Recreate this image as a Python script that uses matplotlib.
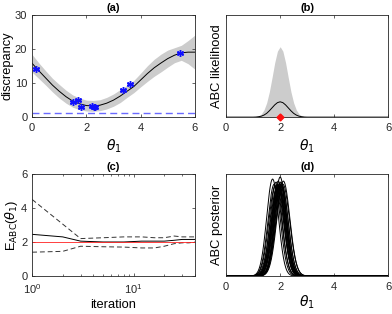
import numpy as np
import matplotlib
matplotlib.use('Agg')
import matplotlib.pyplot as plt

plt.rcParams['font.family'] = ['Liberation Sans', 'DejaVu Sans']
plt.rcParams['font.size'] = 8
plt.rcParams['mathtext.fontset'] = 'dejavusans'

# (a) GP model of the discrepancy
theta_grid = np.arange(0, 6.01, 0.25)
gp_mean = [15.8, 13.6, 11.5, 9.4, 7.6, 6.0, 4.7, 3.9, 3.4, 3.3, 3.5, 4.1,
           5.0, 6.2, 7.6, 9.0, 10.9, 12.8, 14.5, 15.9, 17.2, 18.2, 18.9, 19.1, 19.1]
gp_std = [2.6, 2.3, 2.1, 2.0, 2.0, 1.9, 1.8, 1.7, 1.6, 1.6, 1.6, 1.7,
          1.8, 1.9, 1.8, 1.8, 2.0, 2.3, 2.5, 2.6, 2.5, 2.2, 2.2, 3.4, 5.0]
obs_theta = [0.15, 1.5, 1.7, 1.8, 2.2, 2.27, 2.3, 3.35, 3.6, 5.45]
obs_disc = [14.0, 4.3, 4.9, 2.9, 3.3, 3.1, 2.9, 8.1, 9.8, 18.8]
threshold = 1.1

# (b) ABC likelihood
lik_theta = [0.0, 1.0, 1.1, 1.2, 1.3, 1.4, 1.5, 1.6, 1.7, 1.8, 1.9, 2.0,
             2.1, 2.2, 2.3, 2.4, 2.5, 2.6, 2.7, 2.8, 2.9, 3.0, 6.0]
lik_upper = [0.0, 0.001, 0.004, 0.012, 0.030, 0.070, 0.140, 0.248, 0.388, 0.535, 0.647, 0.690,
             0.647, 0.535, 0.388, 0.248, 0.140, 0.070, 0.030, 0.012, 0.004, 0.001, 0.0]
lik_mean = [0.0, 0.0, 0.001, 0.004, 0.009, 0.020, 0.037, 0.062, 0.091, 0.120, 0.142, 0.150,
            0.142, 0.120, 0.091, 0.062, 0.037, 0.020, 0.009, 0.004, 0.001, 0.0, 0.0]
theta_true = 2.0

# (c) estimate over iterations
iters = [1, 2, 3, 5, 8, 12, 16, 20, 25, 30, 35, 40]
est_mean = [2.45, 2.3, 2.05, 2.0, 2.0, 2.05, 2.05, 2.05, 2.1, 2.15, 2.15, 2.15]
est_upper = [4.5, 3.05, 2.2, 2.25, 2.3, 2.3, 2.25, 2.25, 2.35, 2.3, 2.3, 2.3]
est_lower = [1.4, 1.45, 1.75, 1.72, 1.7, 1.65, 1.65, 1.75, 1.9, 1.95, 1.95, 2.0]

# (d) posteriors from repeated runs
post_mu = [1.72, 1.78, 1.82, 1.85, 1.88, 1.9, 1.92, 1.93, 1.94, 1.95,
           1.97, 1.98, 2.0, 2.0, 2.02, 2.03, 2.05, 2.07, 2.1, 2.12]
post_sd = [0.22, 0.23, 0.24, 0.22, 0.25, 0.23, 0.24, 0.22, 0.26, 0.24,
           0.23, 0.25, 0.21, 0.24, 0.23, 0.22, 0.24, 0.23, 0.25, 0.24]
post_peak = [0.95, 0.9, 0.88, 0.92, 0.86, 0.9, 0.89, 0.93, 0.85, 0.88,
             0.9, 0.87, 0.97, 0.9, 0.92, 0.89, 0.91, 0.88, 0.9, 0.93]

fig = plt.figure(figsize=(3.92, 3.14), dpi=100)
axa = fig.add_axes([0.082, 0.627, 0.415, 0.325])
axb = fig.add_axes([0.577, 0.627, 0.413, 0.325])
axc = fig.add_axes([0.082, 0.121, 0.415, 0.325])
axd = fig.add_axes([0.577, 0.121, 0.413, 0.325])

gray = '#cccccc'
m = np.array(gp_mean)
s = np.array(gp_std)
axa.fill_between(theta_grid, m - s, m + s, color=gray, lw=0)
axa.plot(theta_grid, m, color='k', lw=0.7)
axa.axhline(threshold, color='#6a6aff', ls='--', lw=1.0, dashes=(5, 3))
axa.plot(obs_theta, obs_disc, ls='none', marker=(6, 2, 0), ms=5, mew=1.0, color='#1010ff')
axa.plot(obs_theta, obs_disc, ls='none', marker='+', ms=4, mew=0.8, color='#1010ff')
axa.set_xlim(0, 6)
axa.set_ylim(0, 30)
axa.set_yticks([0, 10, 20, 30])
axa.set_xticks([0, 2, 4, 6])
axa.set_ylabel('discrepancy', fontsize=9.3, labelpad=1)
axa.set_xlabel(r'$\theta_1$', fontsize=10, labelpad=3)
axa.set_title('(a)', fontweight='bold', fontsize=8, pad=3)

axb.fill_between(lik_theta, 0, lik_upper, color=gray, lw=0)
axb.plot(lik_theta, lik_mean, color='k', lw=0.7)
axb.plot([theta_true], [0], marker='D', ms=3.5, color='#ff1010', clip_on=False, zorder=5)
axb.set_xlim(0, 6)
axb.set_ylim(0, 1)
axb.set_xticks([0, 2, 4, 6])
axb.set_yticks([])
axb.set_ylabel('ABC likelihood', fontsize=9.3, labelpad=2)
axb.set_xlabel(r'$\theta_1$', fontsize=10, labelpad=3)
axb.set_title('(b)', fontweight='bold', fontsize=8, pad=3)

axc.plot(iters, est_upper, '--', color='#333333', lw=0.7, dashes=(5, 3))
axc.plot(iters, est_lower, '--', color='#333333', lw=0.7, dashes=(5, 3))
axc.plot(iters, est_mean, 'k-', lw=0.7)
axc.axhline(theta_true, color='#ff2020', lw=0.6)
axc.set_xscale('log')
axc.set_xlim(1, 40)
axc.set_ylim(0, 6)
axc.set_yticks([0, 2, 4, 6])
axc.set_ylabel(r'E$_{\rm ABC}$($\theta_1$)', fontsize=9.3, labelpad=1)
axc.set_xlabel('iteration', fontsize=9.3, labelpad=2)
axc.set_title('(c)', fontweight='bold', fontsize=8, pad=3)

xd = np.linspace(0, 6, 601)
for mu, sd, pk in zip(post_mu, post_sd, post_peak):
    axd.plot(xd, pk * np.exp(-0.5 * ((xd - mu) / sd) ** 2), color='k', lw=0.7)
axd.set_xlim(0, 6)
axd.set_ylim(0, 1)
axd.set_xticks([0, 2, 4, 6])
axd.set_yticks([])
axd.set_ylabel('ABC posterior', fontsize=9.3, labelpad=2)
axd.set_xlabel(r'$\theta_1$', fontsize=10, labelpad=1)
axd.set_title('(d)', fontweight='bold', fontsize=8, pad=3)

for ax in (axa, axb, axc, axd):
    for sp in ax.spines.values():
        sp.set_color('#262626')
        sp.set_linewidth(0.6)
    ax.tick_params(direction='in', top=True, right=True, length=2.5, width=0.5,
                   colors='#262626', labelsize=8)
    ax.tick_params(axis='x', pad=4.5)
    ax.tick_params(axis='y', pad=3.5)
    ax.tick_params(which='minor', direction='in', top=True, right=True, length=1.5, width=0.4)

fig.savefig('out.png', dpi=100)
